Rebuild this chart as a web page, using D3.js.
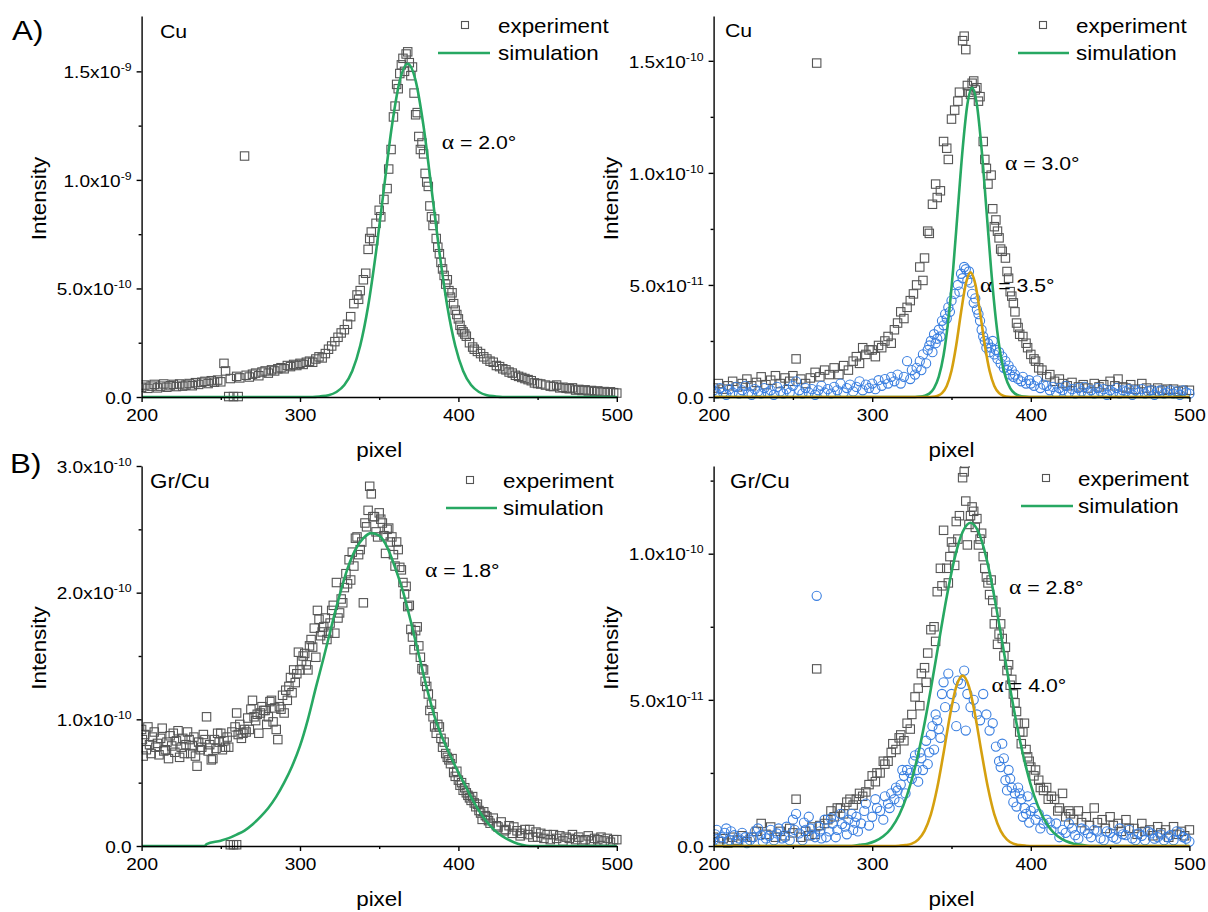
<!DOCTYPE html>
<html>
<head>
<meta charset="utf-8">
<script src="https://cdn.jsdelivr.net/npm/d3@7"></script>
<style>
  body { margin: 0; background: #fff; }
  text { font-family: "Liberation Sans", Arial, sans-serif; fill: #000; }
</style>
</head>
<body>
<svg id="fig" width="1208" height="912"></svg>
<script>
// x axis (detector pixel)
const pixelTicks = [200, 300, 400, 500];
const pixelMinor = [250, 350, 450];

// A) Cu, alpha = 2.0 deg  (intensity in 1e-10)
const cuLeftExp = [[200,.45],[202,.55],[204,.4],[206,.5],[208,.58],[210,.42],[212,.5],[214,.6],[216,.45],[218,.52],[220,.58],[222,.48],[224,.6],[226,.5],[228,.55],[230,.62],[232,.52],[234,.66],[236,.58],[238,.68],[240,.72],[242,.62],[244,.75],[246,.68],[248,.78],[250,.7],[252,1.55],[253,1.2],[255,.02],[258,.02],[261,.02],[256,.85],[260,.95],[262,.88],[265,11.1],[266,1.0],[268,.92],[270,1.05],[272,1.1],[274,.98],[276,1.15],[278,1.2],[280,1.1],[282,1.25],[284,1.2],[286,1.3],[288,1.35],[290,1.3],[292,1.45],[294,1.4],[296,1.5],[298,1.45],[300,1.55],[302,1.5],[304,1.6],[306,1.65],[308,1.6],[310,1.75],[312,1.85],[314,1.8],[316,2.0],[318,2.2],[320,2.35],[322,2.55],[324,2.75],[326,2.95],[328,3.1],[330,3.35],[332,3.7],[334,4.3],[336,4.7],[337,4.5],[338,4.9],[340,5.4],[341.5,5.7],[343,6.8],[344,7.3],[345,7.6],[346.5,7.2],[348,8.0],[350,8.6],[351,8.3],[353,9.1],[355,9.6],[356,10.5],[357.5,11.4],[359,12.9],[360,13.4],[361,14.4],[362,14.2],[363,14.9],[364,15.3],[365,15.6],[366,15.0],[367,15.8],[368,15.9],[369,15.4],[370,14.8],[371,15.2],[372,14.0],[373,13.0],[374,13.1],[375,12.0],[376,11.4],[377,11.7],[378,11.2],[379,10.3],[380,9.9],[381,9.7],[382,8.8],[383,8.3],[384,7.9],[385,8.2],[386,7.3],[387,6.9],[388,6.6],[389,6.2],[390,5.9],[391,5.6],[392,5.2],[393,5.4],[394,4.9],[395,4.6],[396,4.8],[397,4.3],[398,4.0],[399,3.8],[400,3.6],[401,3.3],[402,3.1],[403,3.0],[404,2.9],[405,2.8],[407,2.5],[409,2.3],[410,2.2],[412,2.1],[414,2.0],[416,1.85],[418,1.75],[420,1.65],[422,1.6],[424,1.45],[426,1.4],[428,1.3],[430,1.25],[432,1.15],[434,1.1],[436,1.0],[438,.95],[440,.9],[442,.85],[444,.8],[446,.75],[448,.65],[450,.62],[452,.6],[455,.55],[458,.5],[460,.48],[462,.55],[464,.42],[466,.45],[468,.4],[470,.38],[472,.42],[474,.32],[476,.35],[478,.3],[480,.33],[482,.28],[484,.3],[486,.25],[488,.28],[490,.22],[492,.25],[494,.2],[496,.24],[498,.2],[500,.18]];
const cuLeftSim = [[200,0],[308,0],[313,.03],[318,.08],[323,.23],[328,.55],[333,1.2],[338,2.36],[343,4.18],[348,6.68],[353,9.61],[358,12.47],[363,14.57],[368,15.35],[373,14.57],[378,12.47],[383,9.61],[388,6.68],[393,4.18],[398,2.36],[403,1.2],[408,.55],[413,.23],[418,.08],[423,.03],[428,0],[500,0]];
const cuLeftTicks = [0, 5, 10, 15];
const cuLeftTickLabels = [["0.0",""],["5.0x10","-10"],["1.0x10","-9"],["1.5x10","-9"]];
const cuLeftMinor = [2.5, 7.5, 12.5];

// A) Cu, alpha = 3.0 / 3.5 deg  (intensity in 1e-11)
const cuRightExp = [[200,.4],[203,.6],[206,.35],[209,.5],[212,.7],[215,.45],[218,.6],[221,.8],[224,.5],[227,.65],[230,.9],[233,.55],[236,.75],[239,.95],[242,.6],[245,.85],[248,.7],[250,.95],[252,1.7],[255,.8],[258,.6],[261,.85],[265,14.9],[264,1.1],[267,.9],[270,1.2],[273,1.0],[276,1.3],[279,1.0],[282,1.4],[285,1.2],[288,1.6],[290,1.8],[292,1.5],[294,2.2],[296,1.9],[298,2.1],[300,2.1],[302,1.8],[304,2.3],[306,2.2],[308,2.5],[310,2.7],[312,2.4],[314,3.0],[316,3.3],[318,3.8],[320,3.5],[322,4.0],[324,4.3],[326,4.6],[328,5.0],[330,5.8],[332,5.2],[333,6.2],[335,7.4],[336,7.3],[338,8.6],[340,9.5],[341,8.9],[343,9.2],[345,11.4],[347,11.1],[348,10.6],[350,12.4],[352,12.8],[354,13.2],[355,13.6],[357,15.9],[358,16.1],[359,15.5],[360,13.9],[361,13.6],[362,13.5],[363,14.0],[364,14.1],[365,13.7],[366,13.8],[367,13.2],[368,13.4],[370,11.4],[371,10.6],[372,10.2],[373,9.5],[375,9.9],[376,8.4],[377,7.6],[378,7.9],[379,7.4],[380,7.1],[381,6.6],[382,6.5],[384,6.2],[385,5.6],[386,5.3],[387,4.7],[388,4.5],[389,4.2],[390,3.8],[391,3.3],[392,3.1],[393,2.8],[395,2.7],[397,2.4],[398,2.2],[400,1.9],[402,1.7],[403,1.6],[405,1.3],[407,1.2],[410,.9],[412,1.0],[415,.7],[418,.8],[420,.6],[423,.5],[426,.65],[430,.45],[433,.55],[436,.4],[440,.6],[443,.45],[446,.55],[450,.7],[453,.5],[455,.8],[458,.45],[460,.4],[463,.55],[466,.35],[470,.6],[473,.4],[476,.3],[480,.4],[483,.3],[486,.35],[490,.35],[493,.25],[496,.3],[500,.3]];
const cuRightExp35 = [[200,.3],[202,.15],[204,.4],[206,.2],[208,.1],[210,.35],[212,.2],[214,.45],[216,.15],[218,.3],[220,.5],[222,.2],[224,.1],[226,.35],[228,.25],[230,.15],[232,.4],[234,.2],[236,.3],[238,.1],[240,.45],[242,.25],[244,.15],[246,.35],[248,.2],[250,.5],[252,.7],[254,.3],[256,.15],[258,.4],[260,.2],[262,.35],[264,.1],[266,.3],[268,.5],[270,.2],[272,.35],[274,.15],[276,.45],[278,.3],[280,.6],[282,.2],[284,.4],[286,.55],[288,.25],[290,.45],[292,.7],[294,.3],[296,.55],[298,.4],[300,.6],[302,.35],[304,.75],[306,.5],[308,.8],[310,.6],[312,.9],[314,.7],[316,1.0],[318,.6],[320,.9],[322,1.6],[324,.8],[325,1.2],[327,1.0],[328,1.3],[330,1.6],[331,1.2],[332,1.9],[334,1.5],[335,2.1],[336,2.3],[337,2.5],[338,2.0],[339,2.8],[340,2.4],[341,2.6],[342,3.0],[343,2.7],[344,3.4],[345,3.2],[346,3.7],[347,3.5],[348,4.0],[349,3.8],[350,4.3],[352,4.6],[354,5.0],[355,4.7],[356,5.5],[357,5.3],[358,5.8],[359,5.7],[360,5.2],[361,5.6],[362,5.1],[363,4.6],[364,4.2],[365,4.4],[366,3.9],[367,3.7],[368,3.4],[369,3.0],[370,2.7],[371,2.5],[372,2.2],[373,2.4],[374,2.0],[375,2.2],[376,2.5],[377,1.9],[378,2.1],[379,1.7],[380,2.0],[381,1.5],[382,1.8],[383,1.3],[384,1.6],[385,1.2],[386,1.4],[387,1.0],[388,1.2],[389,.9],[390,1.0],[392,.8],[394,.7],[395,.9],[397,.6],[399,.75],[400,.6],[402,.5],[404,.74],[406,.4],[408,.55],[410,.5],[412,.3],[414,.45],[416,.2],[418,.4],[420,.3],[422,.5],[424,.2],[426,.35],[428,.15],[430,.4],[432,.25],[434,.45],[436,.2],[438,.3],[440,.15],[442,.4],[444,.25],[446,.35],[448,.1],[450,.3],[452,.2],[454,.4],[456,.15],[458,.3],[460,.25],[462,.35],[464,.1],[466,.3],[468,.2],[470,.35],[472,.15],[474,.25],[476,.3],[478,.1],[480,.25],[482,.3],[484,.15],[486,.2],[488,.3],[490,.15],[492,.25],[494,.1],[496,.3],[498,.2],[500,.15]];
const cuRightSim = [[200,0],[327,0],[330,.02],[333,.06],[336,.15],[339,.4],[342,.91],[345,1.86],[348,3.44],[351,5.67],[354,8.38],[357,11.05],[360,13.05],[363,13.8],[366,13.05],[369,11.05],[372,8.38],[375,5.67],[378,3.44],[381,1.86],[384,.91],[387,.4],[390,.15],[393,.06],[396,.02],[399,0],[500,0]];
const cuRightSim35 = [[200,0],[335,0],[338,.01],[341,.05],[344,.17],[347,.49],[350,1.17],[353,2.32],[356,3.77],[359,5.04],[362,5.56],[365,5.04],[368,3.77],[371,2.32],[374,1.17],[377,.49],[380,.17],[383,.05],[386,.01],[389,0],[500,0]];
const cuRightTicks = [0, 5, 10, 15];
const cuRightTickLabels = [["0.0",""],["5.0x10","-11"],["1.0x10","-10"],["1.5x10","-10"]];
const cuRightMinor = [2.5, 7.5, 12.5];

// B) Gr/Cu, alpha = 1.8 deg  (intensity in 1e-11)
const grLeftExp = [[200,9.2],[200.5,8.4],[201,7.1],[202,8.8],[203,7.6],[204,9.4],[205,8.0],[206,7.3],[207,8.6],[208,9.0],[209,7.8],[210,8.1],[211,7.2],[212,8.5],[213,9.3],[214,7.5],[215,7.6],[216,8.2],[217,6.9],[218,8.7],[219,7.9],[220,8.9],[221,7.4],[222,8.3],[223,9.1],[224,7.0],[225,7.8],[226,8.5],[227,7.3],[228,8.0],[229,9.0],[230,8.4],[231,7.3],[232,7.9],[233,8.6],[234,7.1],[235,6.3],[236,8.2],[237,7.6],[238,7.8],[239,8.8],[240,8.4],[241,10.2],[242,7.5],[243,8.0],[244,6.8],[245,6.9],[246,8.4],[247,7.7],[248,8.9],[249,8.2],[250,8.9],[251,7.6],[252,8.3],[253,7.8],[254,8.6],[255,7.8],[256,.1],[258,.1],[260,.1],[257,9.0],[259,9.4],[260,10.5],[261,8.8],[262,9.6],[263,8.5],[264,8.9],[265,9.2],[266,9.0],[267,10.1],[268,9.2],[269,10.8],[270,11.5],[271,10.2],[272,9.9],[273,10.4],[274,8.9],[275,10.5],[276,11.0],[277,10.7],[278,10.7],[279,9.6],[280,10.2],[281,11.4],[282,11.5],[283,9.8],[284,10.9],[285,9.2],[286,8.4],[287,11.0],[288,10.8],[289,11.9],[290,10.5],[291,12.3],[292,11.5],[293,12.6],[294,13.3],[295,12.1],[296,13.9],[297,12.9],[298,13.6],[299,15.3],[300,13.9],[301,14.6],[302,15.0],[303,15.2],[304,14.3],[305,13.9],[306,15.8],[307,16.3],[308,15.7],[309,17.2],[310,14.9],[311,18.6],[312,17.9],[313,16.6],[314,16.9],[315,17.3],[316,18.0],[317,16.3],[318,16.8],[319,17.6],[320,18.6],[321,19.0],[322,16.8],[323,20.8],[324,18.0],[325,18.4],[326,19.5],[327,19.2],[328,20.4],[329,21.5],[330,20.7],[331,22.6],[332,21.0],[333,23.2],[334,22.1],[335,24.3],[336,24.4],[337,23.0],[338,23.4],[339,24.0],[340,19.2],[341,25.5],[342,25.2],[343,26.5],[344,28.4],[345,27.8],[346,26.0],[347,26.0],[348,24.8],[349,24.4],[350,26.3],[351,25.8],[352,25.5],[353,24.5],[354,23.1],[355,25.0],[356,25.1],[357,24.0],[358,24.4],[359,23.0],[360,22.1],[361,24.0],[362,23.4],[363,22.0],[364,21.8],[365,20.8],[366,19.9],[367,20.5],[368,18.9],[369,19.0],[370,17.1],[371,16.5],[372,15.5],[373,17.0],[374,17.3],[375,15.8],[376,14.9],[377,14.0],[378,13.9],[379,13.0],[380,12.6],[381,12.0],[382,10.7],[383,11.2],[384,10.2],[385,9.4],[386,8.9],[387,9.6],[388,9.4],[389,8.5],[390,7.8],[391,8.2],[392,7.3],[393,7.0],[394,6.8],[395,6.5],[396,6.9],[397,5.8],[398,5.5],[399,5.9],[400,5.2],[401,4.8],[402,5.0],[403,4.4],[404,4.6],[405,4.2],[406,4.0],[407,3.8],[408,3.6],[409,3.9],[410,3.4],[411,3.1],[412,3.3],[413,2.8],[414,2.6],[415,2.1],[416,2.7],[417,2.4],[418,2.3],[419,2.0],[420,1.8],[422,2.2],[424,1.6],[425,1.5],[427,1.9],[429,1.2],[430,1.3],[432,1.6],[434,1.0],[435,1.5],[437,1.2],[439,.8],[440,1.0],[442,1.3],[444,.9],[445,1.3],[447,.7],[449,1.1],[450,.7],[452,1.0],[454,.6],[456,.9],[458,.5],[460,.9],[462,.6],[464,.8],[466,.4],[468,.7],[470,.6],[472,.9],[474,.5],[476,.7],[478,.4],[480,.5],[482,.8],[484,.4],[486,.6],[488,.5],[490,.7],[492,.4],[494,.6],[496,.3],[498,.5],[500,.5]];
const grLeftSim = [[200,0],[240,0],[241,.15],[250,.42],[255,.62],[260,.9],[265,1.22],[270,1.7],[275,2.3],[280,3.0],[285,3.9],[290,5.0],[295,6.3],[300,7.9],[305,10.0],[310,12.5],[315,14.9],[320,17.4],[325,19.8],[330,21.9],[335,23.4],[340,24.3],[345,24.7],[350,24.5],[355,23.6],[360,22.0],[365,20.1],[370,17.7],[375,15.1],[380,12.5],[385,10.2],[390,8.5],[395,7.1],[400,5.8],[405,4.6],[410,3.4],[415,2.4],[420,1.6],[425,1.0],[430,.6],[435,.3],[440,.1],[445,0],[500,0]];
const grLeftTicks = [0, 10, 20, 30];
const grLeftTickLabels = [["0.0",""],["1.0x10","-10"],["2.0x10","-10"],["3.0x10","-10"]];
const grLeftMinor = [5, 15, 25];

// B) Gr/Cu, alpha = 2.8 / 4.0 deg  (intensity in 1e-11)
const grRightExp = [[200,.3],[203,.15],[206,.25],[209,.1],[212,.3],[215,.2],[218,.35],[221,.15],[224,.3],[227,.5],[230,.77],[233,.4],[236,.65],[239,.3],[242,.5],[245,.35],[248,.6],[250,.45],[252,1.6],[255,.3],[258,.5],[260,.35],[262,.65],[265,6.06],[264,.4],[267,.7],[270,.77],[272,.9],[274,1.2],[276,1.0],[278,1.3],[280,1.3],[282,1.1],[284,1.5],[286,1.6],[288,1.4],[290,1.6],[292,1.8],[294,1.7],[296,1.85],[298,2.1],[300,2.4],[302,2.2],[303,2.5],[305,2.5],[307,2.9],[308,2.8],[310,2.9],[312,3.2],[313,3.5],[315,3.3],[317,3.7],[318,3.8],[320,3.6],[322,4.2],[324,4.0],[325,4.5],[327,5.1],[329,5.4],[330,4.8],[331,5.9],[333,6.1],[334,5.6],[335,6.6],[337,7.4],[339,7.5],[340,7.0],[341,8.7],[343,9.5],[344,8.9],[345,10.8],[347,9.5],[348,9.0],[349,9.9],[350,10.4],[351,10.2],[352,9.6],[353,11.1],[354,10.5],[355,11.3],[357,12.6],[358,12.8],[358.5,13.1],[359,11.8],[360,10.3],[361,11.0],[362,11.3],[363,11.6],[364,11.45],[365,10.9],[366,11.2],[367,10.3],[368,10.5],[369,10.7],[370,9.9],[371,9.5],[372,9.2],[373,9.0],[374,8.6],[375,9.1],[376,8.4],[377,7.6],[378,8.0],[379,6.9],[380,7.25],[381,7.6],[382,7.1],[383,6.5],[384,6.8],[385,6.0],[386,6.2],[387,5.5],[388,5.7],[389,5.2],[390,4.9],[391,4.6],[392,4.2],[393,3.9],[394,3.5],[395,3.9],[396,4.2],[397,3.3],[398,3.05],[399,2.9],[400,2.7],[402,2.4],[403,2.6],[405,2.25],[406,2.0],[408,1.9],[410,2.0],[411,1.6],[413,1.7],[415,1.6],[417,1.2],[418,1.3],[420,1.8],[422,1.0],[424,1.2],[425,1.1],[427,.9],[430,1.2],[432,.8],[435,1.0],[437,.7],[440,1.3],[442,.8],[445,.9],[447,.6],[450,1.0],[452,.7],[455,.77],[457,.5],[460,.9],[462,.6],[465,.6],[467,.4],[470,.77],[472,.5],[475,.55],[477,.35],[480,.66],[482,.45],[485,.55],[487,.3],[490,.66],[492,.4],[495,.5],[497,.35],[500,.55]];
const grRightExp40 = [[200,.2],[201,.4],[202,.55],[204,.15],[205,.3],[207,.45],[208,.6],[210,.2],[211,.5],[213,.37],[214,.15],[216,.26],[218,.45],[220,.3],[221,.1],[223,.2],[225,.3],[226,.5],[228,.6],[230,.37],[231,.15],[233,.26],[235,.35],[236,.55],[238,.2],[240,.43],[241,.6],[243,.26],[245,.3],[246,.66],[248,.2],[250,.9],[251,.55],[252,1.1],[254,.43],[256,.2],[257,.8],[258,.55],[260,1.0],[261,.6],[262,.37],[264,.3],[265,8.56],[266,.66],[267,.5],[268,.26],[270,.9],[271,.3],[273,.5],[274,.95],[275,.77],[277,.3],[278,.55],[280,1.1],[281,.75],[283,.66],[284,.4],[285,.9],[287,1.1],[288,.55],[289,.8],[290,1.0],[291,.5],[293,.77],[295,1.2],[296,1.45],[298,.7],[300,1.0],[302,1.6],[303,1.3],[305,1.2],[307,.9],[308,1.7],[310,1.45],[311,1.3],[312,1.8],[314,1.6],[315,2.0],[316,1.9],[317,1.5],[318,2.1],[319,2.6],[320,2.4],[321,1.8],[322,2.6],[324,2.5],[325,2.3],[326,2.9],[327,3.1],[328,2.6],[329,2.2],[330,3.2],[331,3.0],[332,2.6],[334,3.6],[335,2.8],[336,3.2],[337,3.8],[338,4.1],[339,3.3],[340,4.5],[341,4.3],[342,4.0],[343,3.7],[344,5.2],[345,5.6],[346,4.75],[348,5.9],[350,5.2],[352,4.75],[353,4.1],[354,5.66],[356,5.55],[358,6.0],[359,3.95],[360,5.2],[362,4.75],[364,5.0],[366,4.5],[368,4.3],[370,5.2],[372,4.5],[374,3.95],[376,4.2],[378,3.4],[380,2.9],[381,2.7],[382,3.5],[383,3.0],[384,2.25],[385,1.9],[386,2.6],[387,2.3],[388,2.0],[389,1.5],[390,1.8],[391,1.35],[392,2.0],[393,1.8],[394,1.6],[395,1.0],[396,1.3],[397,1.1],[398,1.7],[399,.8],[400,1.2],[402,1.3],[403,.9],[405,1.1],[406,.6],[408,.77],[410,.9],[412,.8],[413,.55],[416,.77],[418,.3],[420,.55],[422,.45],[424,.77],[426,.6],[428,.37],[430,.25],[432,.6],[434,.55],[436,.43],[438,.3],[440,.55],[442,.5],[444,.26],[446,.2],[448,.5],[450,.45],[452,.3],[454,.25],[456,.6],[458,.4],[460,.37],[462,.55],[464,.26],[466,.2],[468,.43],[470,.35],[472,.2],[474,.5],[476,.43],[478,.25],[480,.3],[482,.4],[484,.2],[486,.3],[488,.37],[490,.2],[492,.5],[494,.45],[496,.3],[498,.25],[500,.15]];
const grRightSim = [[200,0],[287,0],[292,.04],[297,.08],[302,.17],[307,.33],[312,.61],[317,1.06],[322,1.74],[327,2.69],[332,3.92],[337,5.38],[342,6.97],[347,8.53],[352,9.85],[357,10.74],[362,11.06],[367,10.74],[372,9.85],[377,8.53],[382,6.97],[387,5.38],[392,3.92],[397,2.69],[402,1.74],[407,1.06],[412,.61],[417,.33],[422,.17],[427,.08],[432,.04],[437,0],[500,0]];
const grRightSim40 = [[200,0],[313,0],[317,.01],[321,.03],[325,.08],[329,.22],[333,.52],[337,1.08],[341,1.99],[345,3.18],[349,4.45],[353,5.45],[357,5.83],[361,5.45],[365,4.45],[369,3.18],[373,1.99],[377,1.08],[381,.52],[385,.22],[389,.08],[393,.03],[397,.01],[401,0],[500,0]];
const grRightTicks = [0, 5, 10];
const grRightTickLabels = [["0.0",""],["5.0x10","-11"],["1.0x10","-10"]];
const grRightMinor = [2.5, 7.5, 12.5];

const legendLabels = ["experiment", "simulation"];

const GREEN = "#27a862", GOLD = "#d5a00f", GRAY = "#555", BLUE = "#3a7fe0";
const SX = 1.12; // the original lettering is a bit wider than Arial

const svg = d3.select("#fig");

function txt(sel, x, y, str, size, anchor) {
    return sel.append("text")
        .attr("transform", `translate(${x},${y}) scale(${SX},1)`)
        .attr("font-size", size)
        .attr("text-anchor", anchor || "start")
        .text(str);
}

function alphaNote(sel, x, y, val) {
    const t = sel.append("text")
        .attr("transform", `translate(${x},${y}) scale(${SX},1)`)
        .attr("font-size", 19);
    t.append("tspan").attr("font-family", "'Liberation Serif', 'Times New Roman', serif").attr("font-size", 21).text("\u03b1");
    t.append("tspan").text(" = " + val + "\u00b0");
}

let clipId = 0;
function drawPanel(p) {
    const g = svg.append("g");
    const x = d3.scaleLinear().domain([200, 500]).range([p.x0, p.x1]);
    const y = d3.scaleLinear().domain([0, p.ymax]).range([p.bottom, p.top]);

    const id = "clip" + (clipId++);
    g.append("clipPath").attr("id", id).append("rect")
        .attr("x", p.x0).attr("y", p.top)
        .attr("width", p.x1 - p.x0 + 8).attr("height", p.bottom - p.top + 8);
    const plot = g.append("g").attr("clip-path", `url(#${id})`);

    // experiment: squares
    plot.selectAll(null).data(p.squares).enter().append("rect")
        .attr("x", d => x(d[0]) - 4.2).attr("y", d => y(d[1]) - 4.2)
        .attr("width", 8.4).attr("height", 8.4)
        .attr("fill", "none").attr("stroke", GRAY).attr("stroke-width", 1.1);
    // experiment at the larger angle: circles
    if (p.circles) {
        plot.selectAll(null).data(p.circles).enter().append("circle")
            .attr("cx", d => x(d[0])).attr("cy", d => y(d[1])).attr("r", 4.6)
            .attr("fill", "none").attr("stroke", BLUE).attr("stroke-width", 1.1);
    }
    const line = d3.line().x(d => x(d[0])).y(d => y(d[1])).curve(d3.curveMonotoneX);
    p.sims.forEach(s => {
        plot.append("path").datum(s.data).attr("d", line)
            .attr("fill", "none").attr("stroke", s.color).attr("stroke-width", 2.6);
    });

    // axes
    const xa = g.append("g").attr("transform", `translate(0,${p.bottom})`)
        .call(d3.axisBottom(x).tickValues(pixelTicks).tickSize(5).tickSizeOuter(0).tickFormat(""));
    g.append("g").attr("transform", `translate(0,${p.bottom})`)
        .call(d3.axisBottom(x).tickValues(pixelMinor).tickSize(3).tickSizeOuter(0).tickFormat(""))
        .select(".domain").remove();
    xa.selectAll(".tick text").remove();
    xa.selectAll(".tick").each(function (d) {
        txt(d3.select(this), 0, 24, d, 17, "middle");
    });

    const ya = g.append("g").attr("transform", `translate(${p.x0},0)`)
        .call(d3.axisLeft(y).tickValues(p.yTicks).tickSize(5).tickSizeOuter(0).tickFormat(""));
    g.append("g").attr("transform", `translate(${p.x0},0)`)
        .call(d3.axisLeft(y).tickValues(p.yMinor).tickSize(3).tickSizeOuter(0).tickFormat(""))
        .select(".domain").remove();
    ya.selectAll(".tick text").remove();
    ya.selectAll(".tick").each(function (d, i) {
        const lab = p.yLabels[i];
        const t = d3.select(this).append("text")
            .attr("transform", `translate(-10,0) scale(${SX},1)`)
            .attr("font-size", 17).attr("text-anchor", "end").attr("dy", "0.37em");
        t.append("tspan").text(lab[0]);
        if (lab[1]) t.append("tspan").attr("font-size", 11).attr("dy", -7).text(lab[1]);
    });
    g.selectAll(".domain, .tick line").attr("stroke", "#000").attr("stroke-width", 1.4);

    // axis titles
    txt(g, (p.x0 + p.x1) / 2, p.bottom + 60, "pixel", 20, "middle");
    g.append("text")
        .attr("transform", `translate(${p.x0 - 96},${(p.top + p.bottom) / 2 - 8}) rotate(-90) scale(${SX},1)`)
        .attr("font-size", 20).attr("text-anchor", "middle").text("Intensity");

    // sample name
    txt(g, p.title[1], p.title[2], p.title[0], p.title[3]);

    // legend
    const L = p.legend;
    g.append("rect").attr("x", L.mx - 3.5).attr("y", L.my - 3.5).attr("width", 7).attr("height", 7)
        .attr("fill", "none").attr("stroke", GRAY).attr("stroke-width", 1.1);
    g.append("line").attr("x1", L.lx0).attr("x2", L.lx1).attr("y1", L.my + 28).attr("y2", L.my + 28)
        .attr("stroke", GREEN).attr("stroke-width", 2.6);
    txt(g, L.tx, L.my + 7.5, legendLabels[0], 20);
    txt(g, L.tx, L.my + 35, legendLabels[1], 20);

    p.notes.forEach(n => alphaNote(g, n[0], n[1], n[2]));
}

const L0 = 141.6, L1 = 616.8, R0 = 713.6, R1 = 1189.4;

drawPanel({
    x0: L0, x1: L1, top: 16, bottom: 397, ymax: 17.55,
    yTicks: cuLeftTicks, yLabels: cuLeftTickLabels, yMinor: cuLeftMinor,
    squares: cuLeftExp, sims: [{data: cuLeftSim, color: GREEN}],
    title: ["Cu", 160, 38, 19],
    legend: {mx: 465, my: 25, lx0: 438, lx1: 490, tx: 498},
    notes: [[441.7, 149, "2.0"]]
});
drawPanel({
    x0: R0, x1: R1, top: 16, bottom: 397, ymax: 17.0,
    yTicks: cuRightTicks, yLabels: cuRightTickLabels, yMinor: cuRightMinor,
    squares: cuRightExp, circles: cuRightExp35,
    sims: [{data: cuRightSim, color: GREEN}, {data: cuRightSim35, color: GOLD}],
    title: ["Cu", 725, 37, 19],
    legend: {mx: 1043, my: 25, lx0: 1018, lx1: 1069, tx: 1076},
    notes: [[1005, 170, "3.0"], [980, 291.5, "3.5"]]
});
drawPanel({
    x0: L0, x1: L1, top: 466, bottom: 846, ymax: 30,
    yTicks: grLeftTicks, yLabels: grLeftTickLabels, yMinor: grLeftMinor,
    squares: grLeftExp, sims: [{data: grLeftSim, color: GREEN}],
    title: ["Gr/Cu", 150, 488, 20],
    legend: {mx: 470, my: 480, lx0: 446, lx1: 497, tx: 503},
    notes: [[425, 577, "1.8"]]
});
drawPanel({
    x0: R0, x1: R1, top: 466, bottom: 846, ymax: 13,
    yTicks: grRightTicks, yLabels: grRightTickLabels, yMinor: grRightMinor,
    squares: grRightExp, circles: grRightExp40,
    sims: [{data: grRightSim, color: GREEN}, {data: grRightSim40, color: GOLD}],
    title: ["Gr/Cu", 730, 488, 20],
    legend: {mx: 1046, my: 478, lx0: 1021, lx1: 1073, tx: 1078},
    notes: [[1009, 594, "2.8"], [991.6, 692, "4.0"]]
});

// panel letters
txt(svg, 12, 40, "A)", 28);
txt(svg, 10, 473, "B)", 28);
</script>
</body>
</html>
